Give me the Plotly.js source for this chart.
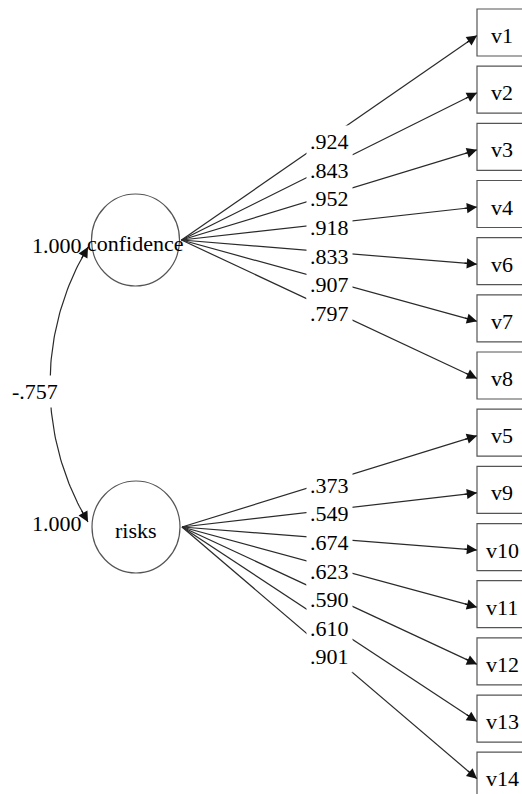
<!DOCTYPE html>
<html>
<head>
<meta charset="utf-8">
<script src="https://cdn.plot.ly/plotly-3.0.1.min.js"></script>
<style>html,body{margin:0;padding:0;background:#fff;}#chart{width:522px;height:794px;}</style>
</head>
<body>
<div id="chart"></div>
<script>
// ---- data ----
const factors = ['confidence', 'risks'];
const factorVariances = [1.000, 1.000];
const covariance = -0.757;
const confItems = ['v1', 'v2', 'v3', 'v4', 'v6', 'v7', 'v8'];
const confLoadings = [0.924, 0.843, 0.952, 0.918, 0.833, 0.907, 0.797];
const riskItems = ['v5', 'v9', 'v10', 'v11', 'v12', 'v13', 'v14'];
const riskLoadings = [0.373, 0.549, 0.674, 0.623, 0.590, 0.610, 0.901];

// ---- layout geometry ----
const W = 522, H = 794;
const FONT = 'Liberation Serif, Times New Roman, serif';
const FS = 22;
const lineColor = '#2a2a2a';
const boxX0 = 477, boxX1 = 527;
const boxTop = 32.5, boxStep = 57.17, boxHalf = 23.5;
const factorCenters = [[135.5, 240], [136, 527]];
const rx = 44, ry = 46;

function fmt(v) { return v.toFixed(3).replace('0.', '.'); }

const groups = [
  {items: confItems, loads: confLoadings},
  {items: riskItems, loads: riskLoadings}
];

const shapes = [];
const annotations = [];
const traces = [];

// factor ellipses
factors.forEach((f, k) => {
  const [cx, cy] = factorCenters[k];
  shapes.push({type: 'circle', xref: 'x', yref: 'y', x0: cx - rx, x1: cx + rx, y0: cy - ry, y1: cy + ry,
    line: {color: '#555', width: 1.2}, fillcolor: 'rgba(0,0,0,0)', layer: 'above'});
  annotations.push({x: cx, y: cy, xref: 'x', yref: 'y', text: f, showarrow: false, yshift: -3,
    font: {family: FONT, size: FS, color: '#000'}});
});

// loadings
let idx = 0;
const lx = [], ly = [];
groups.forEach((g, k) => {
  const [cx, cy] = factorCenters[k];
  const sx = cx + rx + 2, sy = cy;
  g.items.forEach((name, j) => {
    const yc = boxTop + boxStep * idx;
    idx++;
    shapes.push({type: 'rect', xref: 'x', yref: 'y', x0: boxX0, x1: boxX1, y0: yc - boxHalf, y1: yc + boxHalf,
      line: {color: '#555', width: 1.2}, fillcolor: 'rgba(0,0,0,0)'});
    annotations.push({x: (boxX0 + boxX1) / 2, y: yc, xref: 'x', yref: 'y', text: name, showarrow: false, yshift: -3,
      font: {family: FONT, size: FS, color: '#000'}});
    const ex = boxX0, ey = yc + 3;
    lx.push(sx, ex, null); ly.push(sy, ey, null);
    // arrowhead
    const dx = ex - sx, dy = ey - sy, L = Math.hypot(dx, dy);
    annotations.push({x: ex, y: ey, ax: ex - dx / L * 14, ay: ey - dy / L * 14, xref: 'x', yref: 'y', axref: 'x', ayref: 'y',
      text: '', showarrow: true, arrowhead: 2, arrowsize: 1.7, arrowwidth: 1.2, arrowcolor: '#111', standoff: 0});
    // loading label at midpoint
    annotations.push({x: sx + dx * 0.5, y: sy + dy * 0.5, xref: 'x', yref: 'y', text: fmt(g.loads[j]), showarrow: false,
      yshift: -4, bgcolor: '#fff', borderpad: 3, font: {family: FONT, size: FS, color: '#000'}});
  });
});
traces.push({x: lx, y: ly, mode: 'lines', line: {color: lineColor, width: 1.2}, hoverinfo: 'skip', showlegend: false});

// covariance arc
const P1 = [88, 247], P2 = [88, 522], leftX = 50;
const half = (P2[1] - P1[1]) / 2, sag = P1[0] - leftX;
const R = (half * half + sag * sag) / (2 * sag);
const ccx = leftX + R, ccy = (P1[1] + P2[1]) / 2;
const a1 = Math.atan2(P1[1] - ccy, P1[0] - ccx);
const a2 = Math.atan2(P2[1] - ccy, P2[0] - ccx);
const ax = [], ay = [];
const N = 80;
let A1 = a1, A2 = a2;
if (A1 < 0) A1 += 2 * Math.PI;
if (A2 < 0) A2 += 2 * Math.PI;
for (let i = 0; i <= N; i++) {
  const a = A1 + (A2 - A1) * i / N;
  ax.push(ccx + R * Math.cos(a)); ay.push(ccy + R * Math.sin(a));
}
traces.push({x: ax, y: ay, mode: 'lines', line: {color: lineColor, width: 1.2}, hoverinfo: 'skip', showlegend: false});
// arrowheads at both ends of arc
[[0, 4], [N, N - 4]].forEach(([e, b]) => {
  annotations.push({x: ax[e], y: ay[e], ax: ax[b], ay: ay[b], xref: 'x', yref: 'y', axref: 'x', ayref: 'y',
    text: '', showarrow: true, arrowhead: 2, arrowsize: 1.7, arrowwidth: 1.2, arrowcolor: '#111', standoff: 0});
});
const midA = (A1 + A2) / 2;
annotations.push({x: ccx + R * Math.cos(midA) - 15, y: ccy + R * Math.sin(midA) + 4, xref: 'x', yref: 'y',
  text: fmt(covariance), showarrow: false, bgcolor: '#fff', borderpad: 3, yshift: -3,
  font: {family: FONT, size: FS, color: '#000'}});

// variances
factorVariances.forEach((v, k) => {
  const yy = k === 0 ? P1[1] : P2[1];
  annotations.push({x: P1[0] - 4, y: yy, xref: 'x', yref: 'y', xanchor: 'right', text: fmt(v), showarrow: false,
    yshift: k === 0 ? 2 : -1, font: {family: FONT, size: FS, color: '#000'}});
});

const layout = {
  width: W, height: H,
  margin: {l: 0, r: 0, t: 0, b: 0},
  paper_bgcolor: '#fff', plot_bgcolor: '#fff',
  xaxis: {range: [0, W], visible: false, fixedrange: true},
  yaxis: {range: [H, 0], visible: false, fixedrange: true},
  shapes: shapes,
  annotations: annotations,
  showlegend: false
};
Plotly.newPlot('chart', traces, layout, {displayModeBar: false, staticPlot: true});
</script>
</body>
</html>
